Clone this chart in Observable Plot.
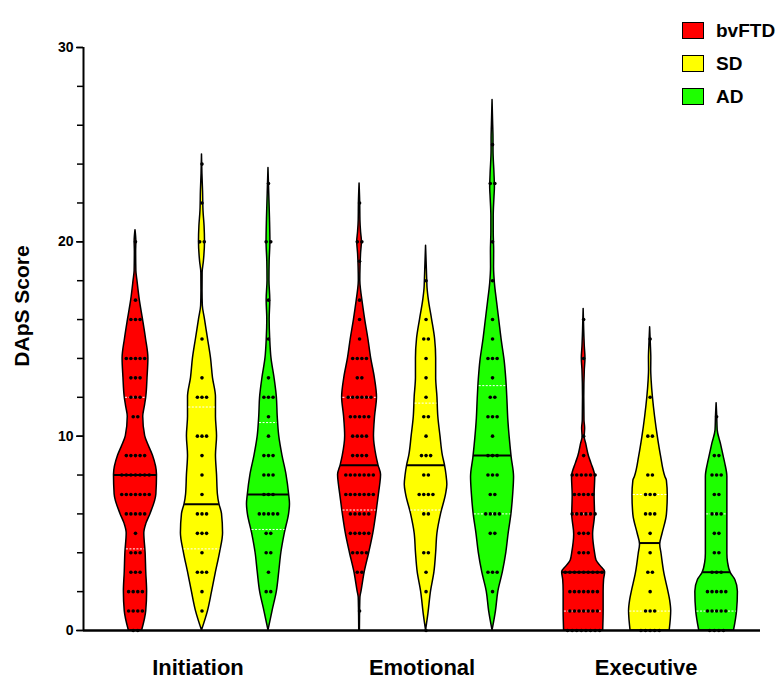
<!DOCTYPE html>
<html><head><meta charset="utf-8">
<script src="https://cdn.jsdelivr.net/npm/d3@7"></script>
<script src="https://cdn.jsdelivr.net/npm/@observablehq/plot@0.6"></script>
<style>
body{margin:0;background:#fff;font-family:"Liberation Sans",Arial,sans-serif}
#wrap{position:relative;width:780px;height:681px;overflow:hidden}
#legend{position:absolute;left:682px;top:14px}
.row{display:flex;align-items:center;height:33px}
.sw{width:20px;height:15px;border:1.5px solid #000;margin-right:12px;box-sizing:content-box}
.lab{font-weight:bold;font-size:19px;line-height:19px}
</style></head><body>
<div id="wrap"><div id="chart"></div><div id="legend"></div></div>
<script>
// categories
const domains = ["Initiation", "Emotional", "Executive"];
const diagnoses = ["bvFTD", "SD", "AD"];
const colors = ["#ff0000", "#ffff00", "#1eff00"];
const yTicks = [0, 10, 20, 30];

// [score, number of patients] per violin
const initiationBvFTD = [[0,2],[1,4],[2,4],[3,3],[4,3],[5,1],[6,5],[7,7],[8,7],[9,5],[11,2],[12,3],[13,3],[14,5],[16,3],[17,1],[20,1]];
const initiationSD    = [[1,1],[2,1],[3,3],[4,1],[5,3],[6,3],[7,1],[8,1],[9,1],[10,3],[12,3],[13,1],[15,1],[20,2],[22,1],[24,1]];
const initiationAD    = [[2,2],[3,1],[4,2],[5,2],[6,5],[7,3],[8,3],[9,3],[10,1],[11,1],[12,3],[13,1],[15,1],[17,1],[20,2],[23,1]];
const emotionalBvFTD  = [[1,1],[3,2],[4,4],[5,5],[6,5],[7,7],[8,7],[9,4],[10,4],[11,5],[12,6],[13,2],[14,4],[15,1],[16,1],[17,1],[19,1],[20,2],[22,1]];
const emotionalSD     = [[0,1],[2,1],[3,1],[4,2],[6,2],[7,4],[8,2],[9,3],[10,1],[11,2],[12,1],[13,1],[14,1],[15,2],[16,1],[18,1]];
const emotionalAD     = [[2,1],[3,3],[5,2],[6,4],[7,2],[8,3],[9,3],[10,1],[11,3],[12,2],[13,1],[14,3],[15,1],[16,1],[18,1],[20,1],[23,2],[25,1]];
const executiveBvFTD  = [[0,8],[1,7],[2,7],[3,9],[4,3],[5,3],[6,6],[7,5],[8,6],[9,1],[10,1],[14,1],[16,1]];
const executiveSD     = [[0,5],[1,3],[2,1],[3,2],[4,1],[5,1],[6,3],[7,3],[8,2],[10,2],[12,1],[15,1]];
const executiveAD     = [[0,4],[1,5],[2,5],[3,3],[4,2],[5,2],[6,3],[7,2],[8,3],[9,2],[11,1]];

// violin outlines: [score, relative density (1 = widest)]
const shapeInitiationBvFTD = [[0,.31],[1,.5],[2,.54],[3,.5],[4,.47],[5,.41],[5.5,.51],[6,.7],[7,.97],[8,1],[9,.81],[9.5,.62],[10,.45],[11,.36],[11.5,.43],[12,.5],[13,.56],[14,.6],[15,.49],[16,.35],[17,.2],[18,.09],[18.5,.04],[19.5,.03],[20,.04],[20.6,0]];
const shapeInitiationSD    = [[0,0],[1,.28],[2,.47],[3,.65],[4,.84],[5,.98],[6,.93],[6.5,.81],[7,.74],[8,.7],[9,.65],[10,.7],[11,.65],[12,.65],[13,.51],[14,.42],[15,.28],[16,.14],[16.7,.04],[17.5,.025],[18.4,.03],[19,.09],[20,.14],[20.8,.12],[21.6,.07],[22.6,.05],[23.5,.02],[24.5,0]];
const shapeInitiationAD    = [[0,0],[1,.19],[2,.39],[3,.5],[4,.6],[5,.76],[6,.96],[6.5,1],[7,.96],[8,.84],[9,.65],[10,.5],[11,.43],[12,.39],[13,.28],[14,.14],[15,.08],[16,.055],[17,.085],[18,.045],[19,.055],[20,.09],[21.2,.07],[22.5,.035],[23.8,0]];
const shapeEmotionalBvFTD  = [[0,.015],[1,.025],[1.7,.04],[2,.09],[3,.24],[4,.45],[5,.64],[6,.78],[7,.9],[7.5,.96],[8,1],[8.5,.88],[9,.78],[10,.67],[11,.72],[12,.81],[13,.71],[14,.54],[15,.41],[16,.26],[17,.13],[17.5,.07],[18,.035],[18.7,.045],[19.4,.07],[20,.11],[20.5,.07],[21.1,.04],[22,.03],[23,0]];
const shapeEmotionalSD     = [[0,0],[0.86,.11],[2,.23],[3,.39],[4,.47],[5,.53],[6,.7],[7,.93],[7.5,.99],[8,.95],[8.5,.88],[9,.78],[10,.67],[11,.57],[12,.53],[13,.47],[14,.47],[15,.42],[16,.28],[17,.13],[17.6,.07],[18,.055],[18.5,.04],[19.8,0]];
const shapeEmotionalAD     = [[0,0],[1,.16],[2,.27],[3,.48],[4,.64],[5,.75],[6,.88],[7,.96],[7.9,1],[8.9,.89],[9.9,.8],[10.9,.73],[11.9,.69],[12.9,.64],[13.9,.56],[14.9,.43],[15.9,.32],[16.9,.21],[17.85,.11],[18.7,.07],[19.5,.075],[20.5,.055],[21.3,.055],[22.3,.09],[22.8,.11],[23.5,.09],[24.7,.045],[25.3,.045],[26,.03],[27.3,0]];
const shapeExecutiveBvFTD  = [[0,.91],[1,.93],[2,.93],[2.6,.95],[3,1],[3.3,.8],[3.6,.6],[4,.53],[4.94,.44],[5.95,.53],[6.95,.51],[7.9,.54],[8.6,.36],[8.95,.25],[9.6,.12],[9.95,.05],[10.4,.07],[10.8,.04],[12,.03],[13.4,.055],[14,.085],[14.6,.055],[15.5,.025],[16.55,0]];
const shapeExecutiveSD     = [[0,.91],[1,.98],[1.55,.93],[2,.85],[2.95,.66],[3.95,.53],[4.43,.47],[4.94,.57],[5.95,.78],[6.95,.82],[7.7,.78],[7.9,.71],[8.95,.51],[9.95,.36],[11,.23],[12,.13],[12.86,.07],[13.4,.05],[14,.055],[14.8,.03],[15.6,0]];
const shapeExecutiveAD     = [[0,.81],[1,.95],[2,.99],[2.6,.87],[2.95,.66],[3.5,.53],[3.95,.5],[4.94,.5],[5.95,.5],[6.95,.5],[7.9,.5],[8.6,.4],[8.95,.33],[9.6,.2],[10.3,.05],[11,.03],[11.7,0]];

// median and quartiles (rows: domain, cols: diagnosis)
const medians   = [[8, 6.5, 7], [8.5, 8.5, 9], [3, 4.5, 3]];
const quartile1 = [[4.2, 4.2, 5.2], [6.2, 6.2, 6], [1, 1, 1]];
const quartile3 = [[12, 11.5, 10.7], [12, 11.7, 12.6], [6, 7, 6]];

const groups = [
  [initiationBvFTD, initiationSD, initiationAD],
  [emotionalBvFTD, emotionalSD, emotionalAD],
  [executiveBvFTD, executiveSD, executiveAD]
];
const shapes = [
  [shapeInitiationBvFTD, shapeInitiationSD, shapeInitiationAD],
  [shapeEmotionalBvFTD, shapeEmotionalSD, shapeEmotionalAD],
  [shapeExecutiveBvFTD, shapeExecutiveSD, shapeExecutiveAD]
];

// layout
const groupStep = 3.37, halfW = 0.3234, dotStep = 0.069;
const center = (g, d) => g * groupStep + d;
const groupCenters = domains.map((_, g) => center(g, 1));

const areaRows = [], dotRows = [], medRows = [], qRows = [];
groups.forEach((row, g) => row.forEach((counts, d) => {
  const shape = shapes[g][d];
  const c = center(g, d), key = g + "-" + d, col = colors[d];
  const widthAt = y => {
    for (let i = 1; i < shape.length; i++) {
      const [y0, w0] = shape[i - 1], [y1, w1] = shape[i];
      if (y <= y1) return w0 + (w1 - w0) * (y - y0) / (y1 - y0);
    }
    return 0;
  };
  shape.forEach(([y, w]) => areaRows.push({key, y, x1: c - w * halfW, x2: c + w * halfW, fill: col}));
  counts.forEach(([v, n]) => {
    for (let k = 0; k < n; k++) dotRows.push({x: c + (k - (n - 1) / 2) * dotStep, y: v});
  });
  const m = medians[g][d], wm = widthAt(m) * halfW;
  medRows.push({y: m, x1: c - wm, x2: c + wm});
  for (const q of [quartile1[g][d], quartile3[g][d]]) {
    const wq = widthAt(q) * halfW - 0.012;
    qRows.push({y: q, x1: c - wq, x2: c + wq});
  }
}));

const chart = Plot.plot({
  width: 780, height: 681,
  marginTop: 47, marginBottom: 51, marginLeft: 83, marginRight: 20,
  x: {domain: [-0.782, 9.40], axis: null},
  y: {domain: [0, 30], axis: null},
  color: {type: "identity"},
  style: {fontFamily: "'Liberation Sans', Arial, sans-serif", color: "#000", background: "#fff", overflow: "visible"},
  marks: [
    Plot.areaX(areaRows, {y: "y", x1: "x1", x2: "x2", z: "key", fill: "fill", stroke: "#000", strokeWidth: 1.5, curve: "monotone-y"}),
    Plot.ruleY(qRows, {y: "y", x1: "x1", x2: "x2", stroke: "#fff", strokeWidth: 1, strokeDasharray: "2,1.5"}),
    Plot.ruleY(medRows, {y: "y", x1: "x1", x2: "x2", stroke: "#000", strokeWidth: 2}),
    Plot.dot(dotRows, {x: "x", y: "y", r: 1.8, fill: "#000", stroke: null}),
    Plot.axisY({ticks: d3.range(0, 31, 2), tickSize: 6, tickFormat: () => "", strokeWidth: 1.5, label: null}),
    Plot.axisY({ticks: yTicks, tickSize: 7, tickPadding: 3, fontSize: 14, fontWeight: "bold", label: null, strokeWidth: 1.5}),
    Plot.axisX({ticks: groupCenters, tickFormat: t => domains[groupCenters.indexOf(t)], tickSize: 0, tickPadding: 29, fontSize: 22, fontWeight: "bold", label: null, dx: -4}),
    Plot.ruleX([-0.782], {stroke: "#000", strokeWidth: 2}),
    Plot.ruleY([0], {stroke: "#000", strokeWidth: 2.5}),
    Plot.text(["DApS Score"], {frameAnchor: "left", textAnchor: "middle", rotate: -90, dx: -61, dy: -33, fontSize: 21, fontWeight: "bold", fill: "#000"})
  ]
});
document.getElementById("chart").appendChild(chart);

const legend = document.getElementById("legend");
diagnoses.forEach((name, i) => {
  const r = document.createElement("div"); r.className = "row";
  const s = document.createElement("div"); s.className = "sw"; s.style.background = colors[i];
  const t = document.createElement("span"); t.className = "lab"; t.textContent = name;
  r.appendChild(s); r.appendChild(t); legend.appendChild(r);
});
</script>
</body></html>
